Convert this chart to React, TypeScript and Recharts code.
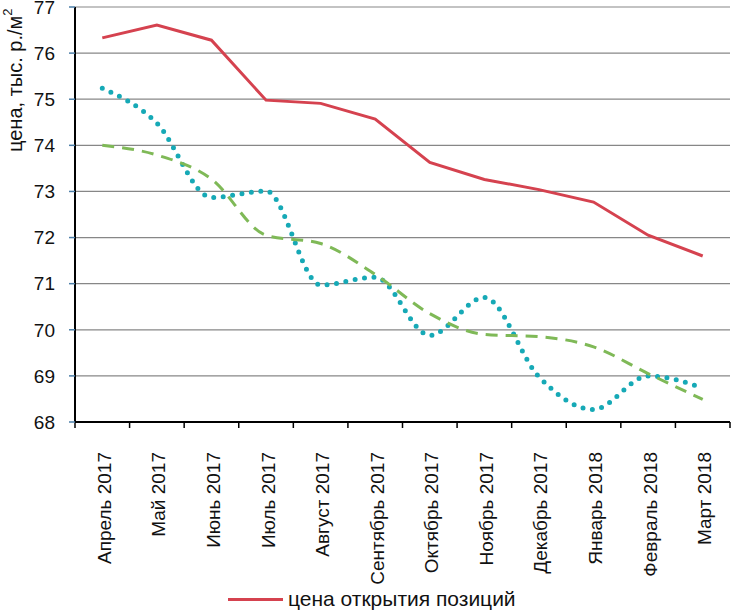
import React from "react";
import { LineChart, Line, XAxis, YAxis, CartesianGrid } from "recharts";

const months = [
  "Апрель 2017",
  "Май 2017",
  "Июнь 2017",
  "Июль 2017",
  "Август 2017",
  "Сентябрь 2017",
  "Октябрь 2017",
  "Ноябрь 2017",
  "Декабрь 2017",
  "Январь 2018",
  "Февраль 2018",
  "Март 2018",
];

// цена открытия позиций
const openPrice = [76.33, 76.61, 76.28, 74.98, 74.91, 74.57, 73.63, 73.26, 73.04, 72.77, 72.05, 71.6];
// dotted series
const dotted = [75.24, 74.48, 72.87, 73.01, 70.97, 71.14, 69.88, 70.7, 68.98, 68.27, 69.0, 68.74];
// dashed series
const dashed = [74.0, 73.79, 73.27, 72.05, 71.87, 71.2, 70.35, 69.9, 69.85, 69.63, 69.05, 68.49];

const yTicks = [68, 69, 70, 71, 72, 73, 74, 75, 76, 77];
const xTicks = [0, 1, 2, 3, 4, 5, 6, 7, 8, 9, 10, 11, 12];

const data = months.map((m, i) => ({
  pos: i + 0.5,
  month: m,
  open: openPrice[i],
  dotted: dotted[i],
  dashed: dashed[i],
}));

const W = 731;
const H = 611;
const LEFT = 75;
const RIGHT = 1;
const STEP = (W - LEFT - RIGHT) / months.length;
const FONT = '"Liberation Sans", Arial, sans-serif';

const MonthTick = (props: any) => {
  const { x, y, payload } = props;
  const label = months[payload.value];
  if (!label) return null;
  return (
    <text
      transform={`translate(${x + STEP / 2 + 2}, ${y + 22}) rotate(-90)`}
      textAnchor="end"
      dominantBaseline="central"
      fontSize={19}
      fontFamily={FONT}
      fill="#111"
    >
      {label}
    </text>
  );
};

const YTitle = () => (
  <text
    transform="translate(15, 152) rotate(-90)"
    textAnchor="start"
    dominantBaseline="central"
    fontSize={20}
    fontFamily={FONT}
    fill="#111"
  >
    цена, тыс. р./м
    <tspan dy={-8} fontSize={13}>
      2
    </tspan>
  </text>
);

export default function App() {
  return (
    <div style={{ position: "absolute", left: 0, top: 0, width: W, height: H, background: "#fff" }}>
      <LineChart width={W} height={H} data={data} margin={{ top: 7, right: RIGHT, left: 0, bottom: 0 }}>
        <CartesianGrid horizontal vertical={false} stroke="#878787" strokeWidth={1.2} />
        <XAxis
          dataKey="pos"
          type="number"
          domain={[0, 12]}
          ticks={xTicks}
          interval={0}
          height={189}
          axisLine={{ stroke: "#000", strokeWidth: 2 }}
          tickLine={{ stroke: "#000", strokeWidth: 1.5 }}
          tickSize={6}
          tick={<MonthTick />}
        />
        <YAxis
          domain={[68, 77]}
          ticks={yTicks}
          interval={0}
          width={LEFT}
          axisLine={{ stroke: "#000", strokeWidth: 2 }}
          tickLine={{ stroke: "#4d7fa8", strokeWidth: 1.5 }}
          tickSize={6}
          tickMargin={14}
          tick={{ fontSize: 19, fill: "#111", fontFamily: FONT }}
          label={{ content: () => <YTitle /> }}
        />
        <Line
          type="linear"
          dataKey="open"
          stroke="#d5424f"
          strokeWidth={3}
          dot={false}
          isAnimationActive={false}
        />
        <Line
          type="monotone"
          dataKey="dotted"
          stroke="#16a9b6"
          strokeWidth={5}
          strokeDasharray="0 9.5"
          strokeLinecap="round"
          dot={false}
          isAnimationActive={false}
        />
        <Line
          type="monotone"
          dataKey="dashed"
          stroke="#7fb957"
          strokeWidth={3}
          strokeDasharray="12 8"
          dot={false}
          isAnimationActive={false}
        />
      </LineChart>
      <div
        style={{
          position: "absolute",
          left: 228,
          top: 588,
          display: "flex",
          alignItems: "center",
          fontFamily: FONT,
          fontSize: 21,
          color: "#111",
          whiteSpace: "nowrap",
          lineHeight: "22px",
        }}
      >
        <span style={{ display: "inline-block", width: 55, height: 3, background: "#d5424f", marginRight: 5 }} />
        <span>цена открытия позиций</span>
      </div>
    </div>
  );
}
